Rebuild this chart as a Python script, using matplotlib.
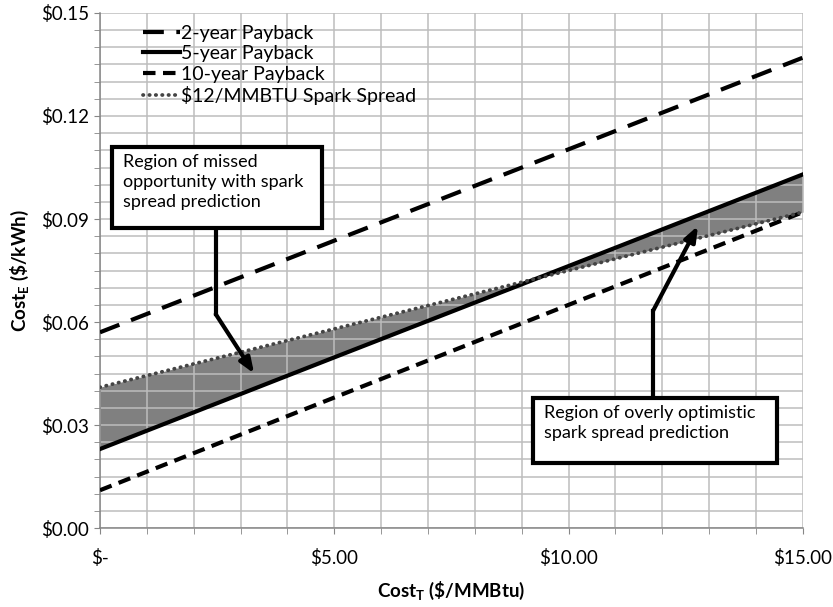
# -*- coding: utf-8 -*-

"""
Payback lines vs. spark spread prediction.
"""

# %% Imports
import numpy as np
import matplotlib
matplotlib.use("Agg")
import matplotlib.pyplot as plt
from matplotlib.patches import Rectangle
from matplotlib.ticker import MultipleLocator

# %% Data
cost_t = [0, 5, 10, 15]                       # $/MMBtu
payback_2yr = [0.057, 0.0837, 0.1103, 0.137]  # $/kWh
payback_5yr = [0.023, 0.0497, 0.0763, 0.103]
payback_10yr = [0.011, 0.0380, 0.0650, 0.092]
spark_12 = [0.041, 0.0580, 0.0750, 0.092]

series_labels = ["2-year Payback", "5-year Payback", "10-year Payback",
                 "$12/MMBTU Spark Spread"]
x_ticks = [0, 5, 10, 15]
x_tick_labels = ["$-", "$5.00", "$10.00", "$15.00"]
y_ticks = [0.00, 0.03, 0.06, 0.09, 0.12, 0.15]
y_tick_labels = ["$0.00", "$0.03", "$0.06", "$0.09", "$0.12", "$0.15"]

note_missed = "Region of missed\nopportunity with spark\nspread prediction"
note_optimistic = "Region of overly optimistic\nspark spread prediction"

# %% Figure
plt.rcParams["font.family"] = ["Lato", "DejaVu Sans"]
plt.rcParams["mathtext.fontset"] = "custom"
plt.rcParams["mathtext.rm"] = "Lato"
plt.rcParams["mathtext.bf"] = "Lato:bold"

fig = plt.figure(figsize=(8.33, 6.07), dpi=100)
ax = fig.add_axes([0.12, 0.1301, 0.8439, 0.8485])

x = np.array(cost_t)
s5 = np.array(payback_5yr)
ss = np.array(spark_12)

# shaded region between the 5-year line and the spark spread line
ax.fill_between(x, s5, ss, color="#808080", linewidth=0, interpolate=True,
                zorder=1)

ax.plot(x, payback_2yr, color="black", lw=3, linestyle=(0, (5, 3)),
        label=series_labels[0], zorder=3)
ax.plot(x, payback_5yr, color="black", lw=3, linestyle="-",
        label=series_labels[1], zorder=3)
ax.plot(x, payback_10yr, color="black", lw=3, linestyle=(0, (3, 1.8)),
        label=series_labels[2], zorder=3)
ax.plot(x, spark_12, color="#444444", lw=2.7, linestyle=(0, (0.1, 1.6)),
        dash_capstyle="round", label=series_labels[3], zorder=3)

# %% Axes styling
ax.set_xlim(0, 15)
ax.set_ylim(0, 0.15)
ax.set_xticks(x_ticks)
ax.set_xticklabels(x_tick_labels, fontsize=13.5)
ax.set_yticks(y_ticks)
ax.set_yticklabels(y_tick_labels, fontsize=13.5)
ax.xaxis.set_minor_locator(MultipleLocator(1))
ax.yaxis.set_minor_locator(MultipleLocator(0.005))
ax.grid(True, which="both", color="#bdbdbd", lw=1.1, zorder=1.5)
ax.tick_params(axis="x", which="both", length=4, color="#868686",
               pad=11, labelcolor="black")
ax.tick_params(axis="y", which="both", length=4, color="#868686",
               pad=4, labelcolor="black")
for side in ["top", "right"]:
    ax.spines[side].set_visible(False)
for side in ["left", "bottom"]:
    ax.spines[side].set_color("#868686")
    ax.spines[side].set_linewidth(1.1)

ax.set_xlabel(r"Cost$_\mathbf{T}$ (\$/MMBtu)", fontsize=13.5,
              fontweight="bold", labelpad=9)
ax.set_ylabel(r"Cost$_\mathbf{E}$ (\$/kWh)", fontsize=13.5,
              fontweight="bold", labelpad=7)

leg = ax.legend(loc="upper left", bbox_to_anchor=(0.045, 1.0),
                frameon=False, fontsize=14, handlelength=1.9,
                handletextpad=0.05, labelspacing=0.18, borderaxespad=0.2)

# %% Callout boxes and arrows
def callout(x0, y0, x1, y1, text):
    ax.add_patch(Rectangle((x0, y0), x1 - x0, y1 - y0, facecolor="white",
                           edgecolor="black", lw=3, zorder=5))
    ax.text(x0 + 0.24, y1 - 0.0022, text, fontsize=13, va="top", ha="left",
            linespacing=1.3, zorder=6)

callout(0.26, 0.0874, 4.74, 0.1111, note_missed)
ax.plot([2.47, 2.47], [0.0874, 0.0623], color="black", lw=3, zorder=4)
ax.annotate("", xy=(3.29, 0.0450), xytext=(2.47, 0.0623),
            arrowprops=dict(arrowstyle="-|>,head_length=0.9,head_width=0.35",
                            color="black", lw=3, shrinkA=0, shrinkB=0),
            zorder=4)

callout(9.24, 0.0190, 14.44, 0.0380, note_optimistic)
ax.plot([11.80, 11.80], [0.0380, 0.0632], color="black", lw=3, zorder=4)
ax.annotate("", xy=(12.76, 0.0880), xytext=(11.80, 0.0632),
            arrowprops=dict(arrowstyle="-|>,head_length=0.9,head_width=0.35",
                            color="black", lw=3, shrinkA=0, shrinkB=0),
            zorder=4)

fig.savefig("out.png", dpi=100)
